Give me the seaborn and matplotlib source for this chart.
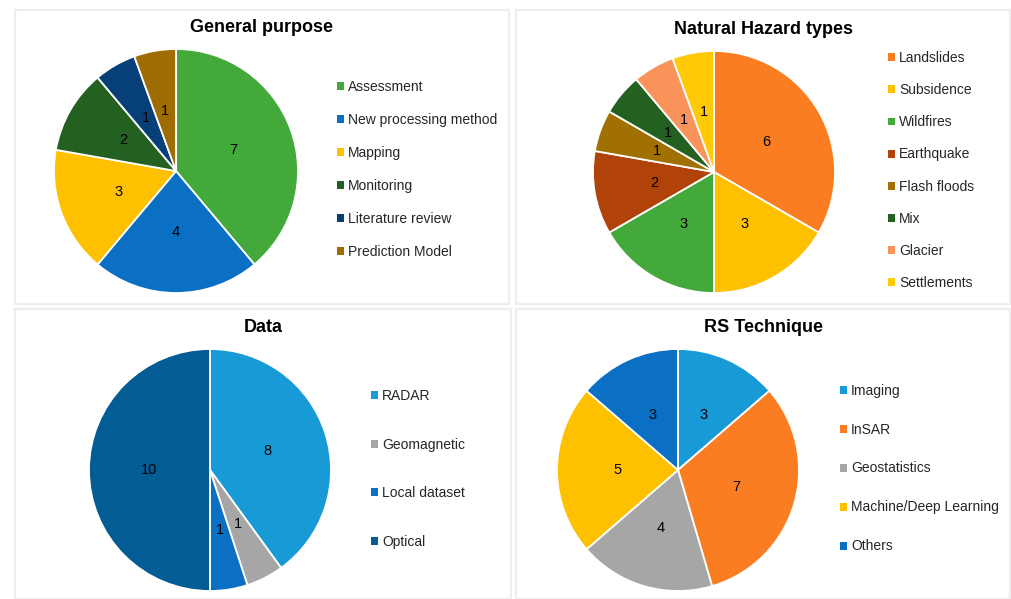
import matplotlib
matplotlib.use("Agg")
import matplotlib.pyplot as plt
from matplotlib.patches import Rectangle, Patch
import seaborn as sns

# ---- data ----
gp_labels = ["Assessment", "New processing method", "Mapping", "Monitoring",
             "Literature review", "Prediction Model"]
gp_values = [7, 4, 3, 2, 1, 1]
gp_colors = ["#43A93A", "#0B6FC4", "#FFC000", "#246020", "#073F78", "#9E6C02"]

nh_labels = ["Landslides", "Subsidence", "Wildfires", "Earthquake",
             "Flash floods", "Mix", "Glacier", "Settlements"]
nh_values = [6, 3, 3, 2, 1, 1, 1, 1]
nh_colors = ["#FB7D22", "#FFC000", "#43A93A", "#B1430A", "#A07002",
             "#246020", "#FA9359", "#FFCA05"]

da_labels = ["RADAR", "Geomagnetic", "Local dataset", "Optical"]
da_values = [8, 1, 1, 10]
da_colors = ["#189AD6", "#A6A6A6", "#0B6FC4", "#035C93"]

rs_labels = ["Imaging", "InSAR", "Geostatistics", "Machine/Deep Learning", "Others"]
rs_values = [3, 7, 4, 5, 3]
rs_colors = ["#189AD6", "#FB7D22", "#A6A6A6", "#FFC000", "#0B6FC4"]

sns.set_theme(style="white")
plt.rcParams["font.family"] = ["Liberation Sans", "DejaVu Sans"]

W, H = 1011, 599
fig = plt.figure(figsize=(W / 100, H / 100), dpi=100)
fig.patch.set_facecolor("white")

# panel frames (pixel coords: left, top, right, bottom)
frames = [(15, 10, 509, 304), (516, 10, 1010, 304),
          (15, 309, 511, 599), (516, 309, 1010, 599)]
for (l, t, r, b) in frames:
    fig.patches.append(Rectangle((l / W, 1 - b / H), (r - l) / W, (b - t) / H,
                                 transform=fig.transFigure, fill=False,
                                 edgecolor="#EEEEEE", linewidth=1.6, zorder=0))

panels = [
    dict(title="General purpose", labels=gp_labels, values=gp_values, colors=gp_colors,
         c=(176, 171), r=122, tpos=(262, 28), lx=337, ly=169.5, ls=1.37),
    dict(title="Natural Hazard types", labels=nh_labels, values=nh_values, colors=nh_colors,
         c=(714, 172), r=121, tpos=(763, 29), lx=888, ly=170.5, ls=1.30),
    dict(title="Data", labels=da_labels, values=da_values, colors=da_colors,
         c=(210, 470), r=121, tpos=(263, 327), lx=371, ly=469, ls=2.50),
    dict(title="RS Technique", labels=rs_labels, values=rs_values, colors=rs_colors,
         c=(678, 470), r=121, tpos=(763, 327), lx=840, ly=468.5, ls=1.80),
]

for p in panels:
    cx, cy = p["c"]
    r = p["r"]
    ax = fig.add_axes([(cx - r) / W, 1 - (cy + r) / H, 2 * r / W, 2 * r / H])
    wedges, texts = ax.pie(p["values"], colors=p["colors"], startangle=90,
                           counterclock=False, labels=[str(v) for v in p["values"]],
                           labeldistance=0.5,
                           wedgeprops=dict(edgecolor="white", linewidth=1.3),
                           textprops=dict(fontsize=10.5, color="black",
                                          ha="center", va="center"))
    for t in texts:
        t.set_ha("center")
        t.set_va("center")
    ax.set_xlim(-1, 1)
    ax.set_ylim(-1, 1)
    ax.set_aspect("equal")
    ax.axis("off")
    fig.text(p["tpos"][0] / W, 1 - p["tpos"][1] / H, p["title"], ha="center",
             va="center", fontsize=13, fontweight="bold", color="black")
    handles = [Patch(facecolor=c, edgecolor="none") for c in p["colors"]]
    fig.legend(handles, p["labels"], loc="center left",
               bbox_to_anchor=(p["lx"] / W, 1 - p["ly"] / H),
               frameon=False, fontsize=10, handlelength=0.5, handleheight=0.5,
               handletextpad=0.3, labelspacing=p["ls"], borderpad=0,
               borderaxespad=0)

fig.savefig("out.png", dpi=100, facecolor="white")
